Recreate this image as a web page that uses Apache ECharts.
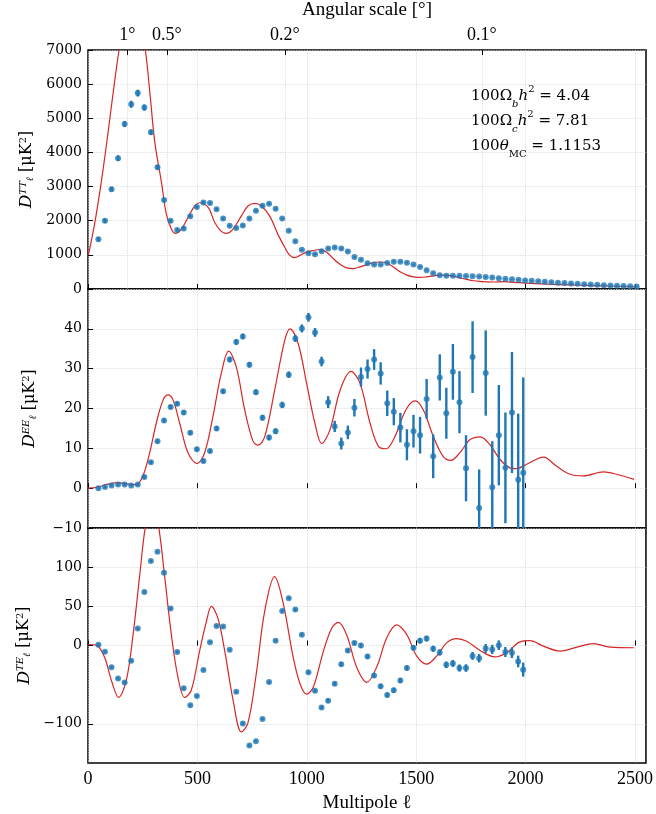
<!DOCTYPE html>
<html>
<head>
<meta charset="utf-8">
<script src="https://cdn.jsdelivr.net/npm/echarts@6/dist/echarts.min.js"></script>
<style>
  html, body { margin: 0; padding: 0; background: #fff; }
  #chart { width: 656px; height: 814px; }
</style>
</head>
<body>
<div id="chart"></div>
<script>
// TT binned data
const ttL = [47.5, 77.5, 107.5, 137.5, 167.5, 197.5, 227.5, 257.5, 287.5, 317.5,
  347.5, 377.5, 407.5, 437.5, 467.5, 497.5, 527.5, 557.5, 587.5, 617.5,
  647.5, 677.5, 707.5, 737.5, 767.5, 797.5, 827.5, 857.5, 887.5, 917.5,
  947.5, 977.5, 1007.5, 1037.5, 1067.5, 1097.5, 1127.5, 1157.5, 1187.5, 1217.5,
  1247.5, 1277.5, 1307.5, 1337.5, 1367.5, 1397.5, 1427.5, 1457.5, 1487.5, 1517.5,
  1547.5, 1577.5, 1607.5, 1637.5, 1667.5, 1697.5, 1727.5, 1757.5, 1787.5, 1817.5,
  1847.5, 1877.5, 1907.5, 1937.5, 1967.5, 1997.5, 2027.5, 2057.5, 2087.5, 2117.5,
  2147.5, 2177.5, 2207.5, 2237.5, 2267.5, 2297.5, 2327.5, 2357.5, 2387.5, 2417.5,
  2447.5, 2477.5, 2507.5];
const ttVal = [1455, 1996, 2922, 3828, 4831, 5410, 5737, 5314, 4591, 3567,
  2604, 1996, 1727, 1774, 2132, 2401, 2537, 2517, 2335, 2063,
  1852, 1785, 1860, 2063, 2294, 2439, 2497, 2352, 2063, 1707,
  1397, 1148, 1050, 1021, 1108, 1186, 1215, 1186, 1099, 934,
  859, 752, 715, 715, 761, 801, 801, 772, 715, 645,
  550, 463, 405, 385, 385, 385, 380, 375, 365, 350,
  335, 318, 300, 285, 268, 252, 238, 224, 210, 198,
  186, 175, 163, 152, 142, 132, 122, 113, 104, 96,
  88, 80, 72];
const ttErr = [60, 60, 70, 80, 90, 100, 100, 90, 80, 70,
  60, 50, 40, 40, 40, 40, 40, 40, 40, 40,
  35, 35, 35, 35, 35, 35, 35, 35, 30, 30,
  30, 30, 30, 30, 30, 30, 30, 30, 30, 30,
  25, 25, 25, 25, 25, 25, 25, 25, 25, 25,
  20, 20, 20, 20, 20, 20, 20, 20, 20, 20,
  20, 20, 20, 20, 20, 20, 20, 20, 20, 20,
  20, 20, 20, 20, 20, 20, 20, 20, 20, 20,
  20, 20, 20];

// TT model curve
const ttModelL = [2, 30, 60, 90, 120, 142, 170, 200, 230, 262, 285, 305, 335, 358, 381, 399,
  427, 457, 487, 510, 550, 579, 609, 632, 663, 701, 731, 762, 792, 830, 868, 899,
  920, 945, 969, 999, 1030, 1060, 1091, 1121, 1152, 1182, 1213, 1243, 1274, 1304,
  1335, 1365, 1396, 1426, 1457, 1487, 1518, 1548, 1579, 1609, 1640, 1670, 1700,
  1731, 1761, 1792, 1850, 1900, 1950, 2000, 2100, 2200, 2300, 2400, 2500];
const ttModel = [1000, 1900, 3100, 4500, 6000, 7000, 8000, 8400, 8100, 7000, 5600, 4311, 3153, 2190, 1756, 1629,
  1756, 2092, 2430, 2526, 2381, 1948, 1687, 1629, 1756, 2141, 2430, 2507, 2430, 2141, 1600, 1224,
  1000, 917, 984, 1079, 1128, 1157, 1079, 888, 723, 617, 598, 646, 714, 772,
  791, 762, 646, 502, 405, 357, 338, 357, 386, 405, 405, 376, 328,
  280, 241, 222, 205, 215, 195, 170, 140, 120, 100, 80, 62];

// EE / TE binned data
const polL = [47.5, 77.5, 107.5, 137.5, 167.5, 197.5, 227.5, 257.5, 287.5, 317.5,
  347.5, 377.5, 407.5, 437.5, 467.5, 497.5, 527.5, 557.5, 587.5, 617.5,
  647.5, 677.5, 707.5, 737.5, 767.5, 797.5, 827.5, 857.5, 887.5, 917.5,
  947.5, 977.5, 1007.5, 1037.5, 1067.5, 1097.5, 1127.5, 1157.5, 1187.5, 1217.5,
  1247.5, 1277.5, 1307.5, 1337.5, 1367.5, 1397.5, 1427.5, 1457.5, 1487.5, 1517.5,
  1547.5, 1577.5, 1607.5, 1637.5, 1667.5, 1697.5, 1727.5, 1757.5, 1787.5, 1817.5,
  1847.5, 1877.5, 1907.5, 1937.5, 1966, 1989];
const eeVal = [0.0, 0.3, 0.7, 0.9, 0.9, 0.7, 0.9, 2.8, 6.5, 11.8,
  17.0, 20.4, 21.2, 19.0, 13.9, 9.8, 6.8, 9.3, 15.0, 24.3,
  32.3, 36.7, 38.1, 31.0, 24.1, 17.7, 12.7, 14.3, 20.9, 28.5,
  37.6, 40.1, 42.9, 39.1, 31.8, 21.6, 15.5, 11.2, 14.0, 20.2,
  27.9, 29.9, 32.3, 28.8, 21.3, 19.2, 15.2, 10.9, 14.3, 13.3,
  22.4, 8.0, 27.8, 18.8, 29.2, 21.6, 5.0, 32.9, -5.0, 28.9,
  0.2, 13.3, 5.1, 19.0, 2.1, 3.9];
const eeErr = [0.3, 0.3, 0.3, 0.3, 0.3, 0.3, 0.3, 0.4, 0.4, 0.5,
  0.5, 0.5, 0.5, 0.5, 0.5, 0.5, 0.5, 0.5, 0.6, 0.6,
  0.7, 0.7, 0.7, 0.7, 0.7, 0.7, 0.7, 0.7, 0.8, 0.8,
  0.9, 1.0, 1.1, 1.1, 1.2, 1.5, 1.4, 1.5, 1.7, 2.2,
  2.4, 2.4, 2.6, 2.8, 3.2, 3.4, 3.7, 3.9, 4.1, 4.6,
  5.0, 5.5, 5.8, 6.4, 7.0, 7.8, 8.3, 9.0, 9.7, 10.7,
  11.6, 12.6, 13.9, 15.2, 16.6, 23.9];
const teVal = [0.9, -7.9, -27.9, -42.1, -47.1, -19.6, 21.6, 68.4, 107.9, 119.6,
  92.9, 47.1, -8.4, -54.6, -76.3, -64.6, -31.3, 4.2, 25.0, 24.2,
  -5.4, -59.2, -99.6, -127.5, -122.1, -93.8, -46.7, 6.2, 44.2, 60.4,
  45.8, 13.8, -34.2, -57.9, -79.2, -70.4, -48.8, -23.8, -6.3, 3.3,
  0, -14.2, -38.3, -52.1, -63.3, -57.1, -44.6, -28.8, -2.9, 6.2,
  8.8, -4.2, -8.8, -24.6, -22.9, -28.8, -28.8, -13.3, -16.3, -3.8,
  -5.0, 0.4, -8.3, -9.2, -20.4, -30.8];
const teErr = [1.5, 1.5, 1.5, 1.5, 1.5, 1.5, 1.5, 1.5, 1.5, 1.5,
  1.5, 1.5, 1.5, 1.5, 1.5, 1.5, 1.5, 1.5, 1.5, 1.5,
  1.5, 1.5, 1.5, 1.5, 1.5, 1.5, 1.5, 1.5, 1.5, 1.5,
  1.8, 1.8, 2.0, 2.0, 2.0, 2.2, 2.2, 2.4, 2.4, 2.5,
  2.6, 2.7, 2.8, 2.9, 3.0, 3.1, 3.2, 3.3, 3.4, 3.5,
  3.6, 3.8, 4.0, 4.2, 4.4, 4.6, 4.8, 5.0, 5.3, 5.6,
  5.8, 6.1, 6.4, 6.8, 7.5, 9.0];

// EE model curve
const eeModelL = [0, 46, 91, 137, 183, 221, 251, 282, 312, 343, 366, 389, 419, 457, 498, 533,
  571, 609, 643, 678, 716, 754, 777, 808, 853, 899, 923, 961, 999, 1037, 1068, 1106,
  1152, 1202, 1243, 1289, 1327, 1362, 1403, 1453, 1495, 1532, 1578, 1623, 1658, 1700,
  1746, 1792, 1837, 1883, 1929, 1959, 2005, 2081, 2142, 2203, 2264, 2355, 2416, 2495];
const eeModel = [0, 0.3, 1.0, 1.4, 1.0, 0.9, 3.1, 8.9, 16.3, 22.1, 23.4, 22.1, 16.3, 8.9, 6.2, 8.9,
  18.0, 28.8, 34.4, 30.4, 19.7, 11.8, 10.8, 13.0, 24.6, 37.1, 40.0, 36.2, 26.3, 16.3, 11.2, 14.7,
  24.6, 29.3, 26.3, 16.3, 10.5, 9.9, 13.0, 19.7, 21.9, 19.7, 13.0, 8.0, 7.0, 8.9,
  12.2, 12.9, 10.9, 7.2, 5.1, 4.9, 6.0, 7.8, 5.5, 3.5, 3.1, 4.1, 3.5, 2.2];

// TE model curve
const teModelL = [0, 38, 76, 107, 140, 175, 206, 236, 262, 292, 323, 350, 381, 411, 442, 472,
  510, 541, 564, 594, 625, 663, 701, 731, 769, 807, 853, 891, 938, 969, 999, 1030,
  1076, 1114, 1144, 1182, 1228, 1274, 1319, 1365, 1411, 1457, 1502, 1548, 1594, 1639,
  1685, 1731, 1792, 1860, 1913, 1974, 2020, 2081, 2157, 2234, 2310, 2386, 2495];
const teModel = [1.3, 0.4, -15.4, -44.6, -66.3, -44.6, 13.8, 88.8, 151, 185, 151, 88.8, 13.8, -40.4, -66.3, -57.1,
  -7.1, 30.4, 50, 34.6, -7.1, -69.6, -110.4, -98.8, -36.3, 42.9, 87.9, 55.4, -15.4, -48.8, -62.1, -52.9,
  -7.1, 22.1, 29.6, 13.8, -27.9, -47.1, -27.9, 9.6, 26.3, 13.8, -13.3, -23.8, -13.3, 3.3,
  8.8, 5.4, -6.3, -14.6, -9.2, 4.6, 6.2, -0.8, -7.1, -2.1, 2.5, -2.1, -2.9];

// axis tick labels
const ellTicks = [0, 500, 1000, 1500, 2000, 2500];
const angleTicks = [180, 360, 900, 1800];
const angleLabels = ['1°', '0.5°', '0.2°', '0.1°'];
const teTicks = [-100, 0, 50, 100];

const BLUE = '#1f77b4';
const RED = '#d62728';
const plain = v => String(v).replace('-', '\u2212');
const gridLine = { show: true, lineStyle: { color: '#d4d4d4', type: 'dotted', width: 0.8 } };
const tickIn = { show: true, inside: true, length: 5, lineStyle: { color: '#000', width: 1 } };
const yLabel = { fontFamily: 'DejaVu Serif', fontSize: 14, color: '#000', margin: 6, formatter: plain };
const xLabel = { fontFamily: 'Liberation Serif', fontSize: 18, color: '#000', margin: 7, formatter: plain };
const nameRich = {
  d: { fontFamily: 'DejaVu Serif', fontStyle: 'italic', fontSize: 17, color: '#000' },
  sp: { fontFamily: 'DejaVu Serif', fontStyle: 'italic', fontSize: 10, color: '#000', verticalAlign: 'top' },
  sb: { fontFamily: 'DejaVu Serif', fontStyle: 'italic', fontSize: 10, color: '#000', verticalAlign: 'bottom' },
  n: { fontFamily: 'DejaVu Serif', fontSize: 16, color: '#000' },
  n2: { fontFamily: 'DejaVu Serif', fontSize: 10, color: '#000', verticalAlign: 'top' }
};

function pairs(xs, ys) { return xs.map((x, i) => [x, ys[i]]); }
function bars(xs, ys, es) { return xs.map((x, i) => [x, ys[i] - es[i], ys[i] + es[i]]); }

function errRender(params, api) {
  const cs = params.coordSys;
  const p1 = api.coord([api.value(0), api.value(1)]);
  const p2 = api.coord([api.value(0), api.value(2)]);
  const top = cs.y, bot = cs.y + cs.height;
  const y1 = Math.min(Math.max(p1[1], top), bot);
  const y2 = Math.min(Math.max(p2[1], top), bot);
  return {
    type: 'line',
    shape: { x1: p1[0], y1: y1, x2: p2[0], y2: y2 },
    style: { stroke: BLUE, lineWidth: 2.4 }
  };
}

const grids = [
  { left: 88, top: 47, width: 558, height: 242 },
  { left: 88, top: 289, width: 558, height: 239 },
  { left: 88, top: 528, width: 558, height: 241 }
].map(g => Object.assign(g, { show: true, borderColor: '#000', borderWidth: 1.5, backgroundColor: 'transparent' }));

function ellAxis(gi, withLabels) {
  return {
    type: 'value', gridIndex: gi, min: 0, max: 2550, interval: 500,
    axisLine: { show: false },
    axisTick: Object.assign({}, tickIn, { customValues: ellTicks }),
    axisLabel: Object.assign({ show: withLabels, customValues: ellTicks }, xLabel),
    splitLine: gridLine,
    name: withLabels ? 'Multipole ℓ' : '',
    nameLocation: 'middle', nameGap: 31,
    nameTextStyle: { fontFamily: 'Liberation Serif', fontSize: 19, color: '#000' }
  };
}

const option = {
  animation: false,
  backgroundColor: '#fff',
  grid: grids,
  xAxis: [
    ellAxis(0, false),
    {
      type: 'value', gridIndex: 0, position: 'top', min: 0, max: 2550,
      axisLine: { show: false },
      axisTick: Object.assign({}, tickIn, { customValues: angleTicks }),
      axisLabel: Object.assign({}, xLabel, { customValues: angleTicks, margin: 6,
        formatter: v => angleLabels[angleTicks.indexOf(v)] || '' }),
      splitLine: gridLine,
      name: 'Angular scale [°]', nameLocation: 'middle', nameGap: 30,
      nameTextStyle: { fontFamily: 'Liberation Serif', fontSize: 19, color: '#000' }
    },
    ellAxis(1, false),
    ellAxis(2, true)
  ],
  yAxis: [
    {
      type: 'value', gridIndex: 0, min: 0, max: 7000, interval: 1000,
      axisLine: { show: false }, axisTick: tickIn, axisLabel: yLabel, splitLine: gridLine,
      name: '{d|D}{sp|TT}{sb|ℓ}{n| [μK}{n2|2}{n|]}', nameLocation: 'middle', nameGap: 50,
      nameTextStyle: { rich: nameRich }
    },
    {
      type: 'value', gridIndex: 1, min: -10, max: 50, interval: 10,
      axisLine: { show: false }, axisTick: tickIn,
      axisLabel: Object.assign({ showMaxLabel: false }, yLabel), splitLine: gridLine,
      name: '{d|D}{sp|EE}{sb|ℓ}{n| [μK}{n2|2}{n|]}', nameLocation: 'middle', nameGap: 50,
      nameTextStyle: { rich: nameRich }
    },
    {
      type: 'value', gridIndex: 2, min: -150, max: 150,
      axisLine: { show: false },
      axisTick: Object.assign({}, tickIn, { customValues: teTicks }),
      axisLabel: Object.assign({ customValues: teTicks }, yLabel), splitLine: gridLine,
      name: '{d|D}{sp|TE}{sb|ℓ}{n| [μK}{n2|2}{n|]}', nameLocation: 'middle', nameGap: 50,
      nameTextStyle: { rich: nameRich }
    }
  ],
  graphic: [{
    type: 'text', left: 471, top: 84, z: 100,
    style: {
      text: '{a|100Ω}{sb|b}{i|h}{sp|2}{a| = 4.04}\n{a|100Ω}{sb|c}{i|h}{sp|2}{a| = 7.81}\n{a|100}{i|θ}{sb2|MC}{a| = 1.1153}',
      rich: {
        a: { fontFamily: 'DejaVu Serif', fontSize: 15, color: '#000', lineHeight: 25 },
        i: { fontFamily: 'DejaVu Serif', fontStyle: 'italic', fontSize: 15, color: '#000', lineHeight: 25 },
        sb: { fontFamily: 'DejaVu Serif', fontStyle: 'italic', fontSize: 10, color: '#000', verticalAlign: 'bottom', lineHeight: 25 },
        sb2: { fontFamily: 'DejaVu Serif', fontSize: 10, color: '#000', verticalAlign: 'bottom', lineHeight: 25 },
        sp: { fontFamily: 'DejaVu Serif', fontSize: 10, color: '#000', verticalAlign: 'top', lineHeight: 25 }
      }
    }
  }],
  series: [
    { type: 'line', xAxisIndex: 0, yAxisIndex: 0, data: pairs(ttModelL, ttModel), showSymbol: false,
      smooth: 0.35, clip: true, lineStyle: { color: RED, width: 1.2 }, z: 3 },
    { type: 'custom', xAxisIndex: 0, yAxisIndex: 0, data: bars(ttL, ttVal, ttErr), renderItem: errRender, clip: true, z: 4 },
    { type: 'scatter', xAxisIndex: 0, yAxisIndex: 0, data: pairs(ttL, ttVal), symbolSize: 6,
      itemStyle: { color: BLUE }, z: 5 },

    { type: 'line', xAxisIndex: 2, yAxisIndex: 1, data: pairs(eeModelL, eeModel), showSymbol: false,
      smooth: 0.35, clip: true, lineStyle: { color: RED, width: 1.2 }, z: 3 },
    { type: 'custom', xAxisIndex: 2, yAxisIndex: 1, data: bars(polL, eeVal, eeErr), renderItem: errRender, clip: true, z: 4 },
    { type: 'scatter', xAxisIndex: 2, yAxisIndex: 1, data: pairs(polL, eeVal), symbolSize: 6,
      itemStyle: { color: BLUE }, z: 5 },

    { type: 'line', xAxisIndex: 3, yAxisIndex: 2, data: pairs(teModelL, teModel), showSymbol: false,
      smooth: 0.35, clip: true, lineStyle: { color: RED, width: 1.2 }, z: 3 },
    { type: 'custom', xAxisIndex: 3, yAxisIndex: 2, data: bars(polL, teVal, teErr), renderItem: errRender, clip: true, z: 4 },
    { type: 'scatter', xAxisIndex: 3, yAxisIndex: 2, data: pairs(polL, teVal), symbolSize: 6,
      itemStyle: { color: BLUE }, z: 5 }
  ]
};

const chart = echarts.init(document.getElementById('chart'), null, { renderer: 'canvas' });
chart.setOption(option);
</script>
</body>
</html>
